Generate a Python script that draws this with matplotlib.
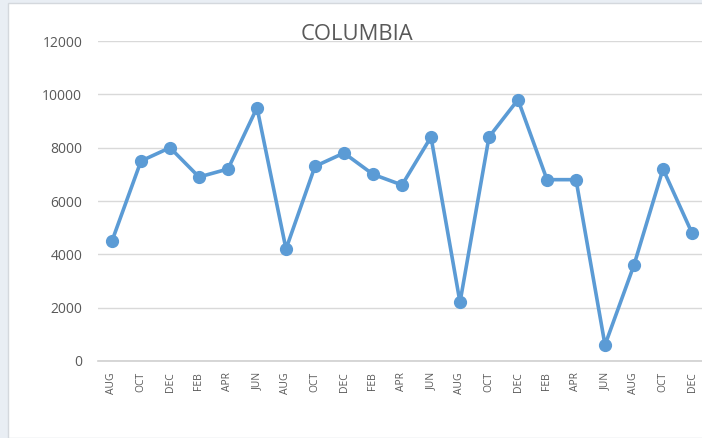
import matplotlib as mpl
mpl.use("Agg")
import matplotlib.pyplot as plt
from matplotlib.patches import Rectangle

# data
months = ['AUG', 'OCT', 'DEC', 'FEB', 'APR', 'JUN',
          'AUG', 'OCT', 'DEC', 'FEB', 'APR', 'JUN',
          'AUG', 'OCT', 'DEC', 'FEB', 'APR', 'JUN',
          'AUG', 'OCT', 'DEC']
values = [4500, 7500, 8000, 6900, 7200, 9500,
          4200, 7300, 7800, 7000, 6600, 8400,
          2200, 8400, 9800, 6800, 6800, 600,
          3600, 7200, 4800]
yticks = [0, 2000, 4000, 6000, 8000, 10000, 12000]

plt.rcParams['font.family'] = ['Open Sans', 'DejaVu Sans']
W, H = 702, 438
fig = plt.figure(figsize=(W / 100, H / 100), dpi=100, facecolor='#e9eef4')

# white chart panel like the excel chart area
fig.patches.append(Rectangle((8 / W, 0), 1, (H - 3) / H, transform=fig.transFigure,
                             facecolor='white', edgecolor='#d4d8dd', lw=1, zorder=-10))

ax = fig.add_axes([97.5 / W, (H - 361) / H, 609 / W, 320 / H])
ax.set_facecolor('none')
x = list(range(len(values)))
ax.plot(x, values, color='#5b9bd5', lw=2.6, marker='o', markersize=8.5,
        solid_capstyle='round', zorder=3)

ax.set_xlim(-0.5, len(values) - 0.5)
ax.set_ylim(0, 12000)
ax.set_yticks(yticks)
ax.set_xticks(x)
ax.set_xticklabels(months, rotation=90, fontsize=7.5, color='#595959')
ax.tick_params(axis='x', length=0, pad=8)
ax.tick_params(axis='y', length=0, pad=11, labelsize=10, labelcolor='#595959')
ax.grid(axis='y', color='#d9d9d9', lw=1)
ax.set_axisbelow(True)
for s in ['top', 'right', 'left']:
    ax.spines[s].set_visible(False)
ax.spines['bottom'].set_color('#d0d0d0')
ax.spines['bottom'].set_linewidth(1.2)

fig.text(357 / W, (H - 34) / H, 'COLUMBIA', ha='center', va='center',
         fontsize=15.8, color='#595959')

fig.savefig('out.png', dpi=100, facecolor=fig.get_facecolor())
